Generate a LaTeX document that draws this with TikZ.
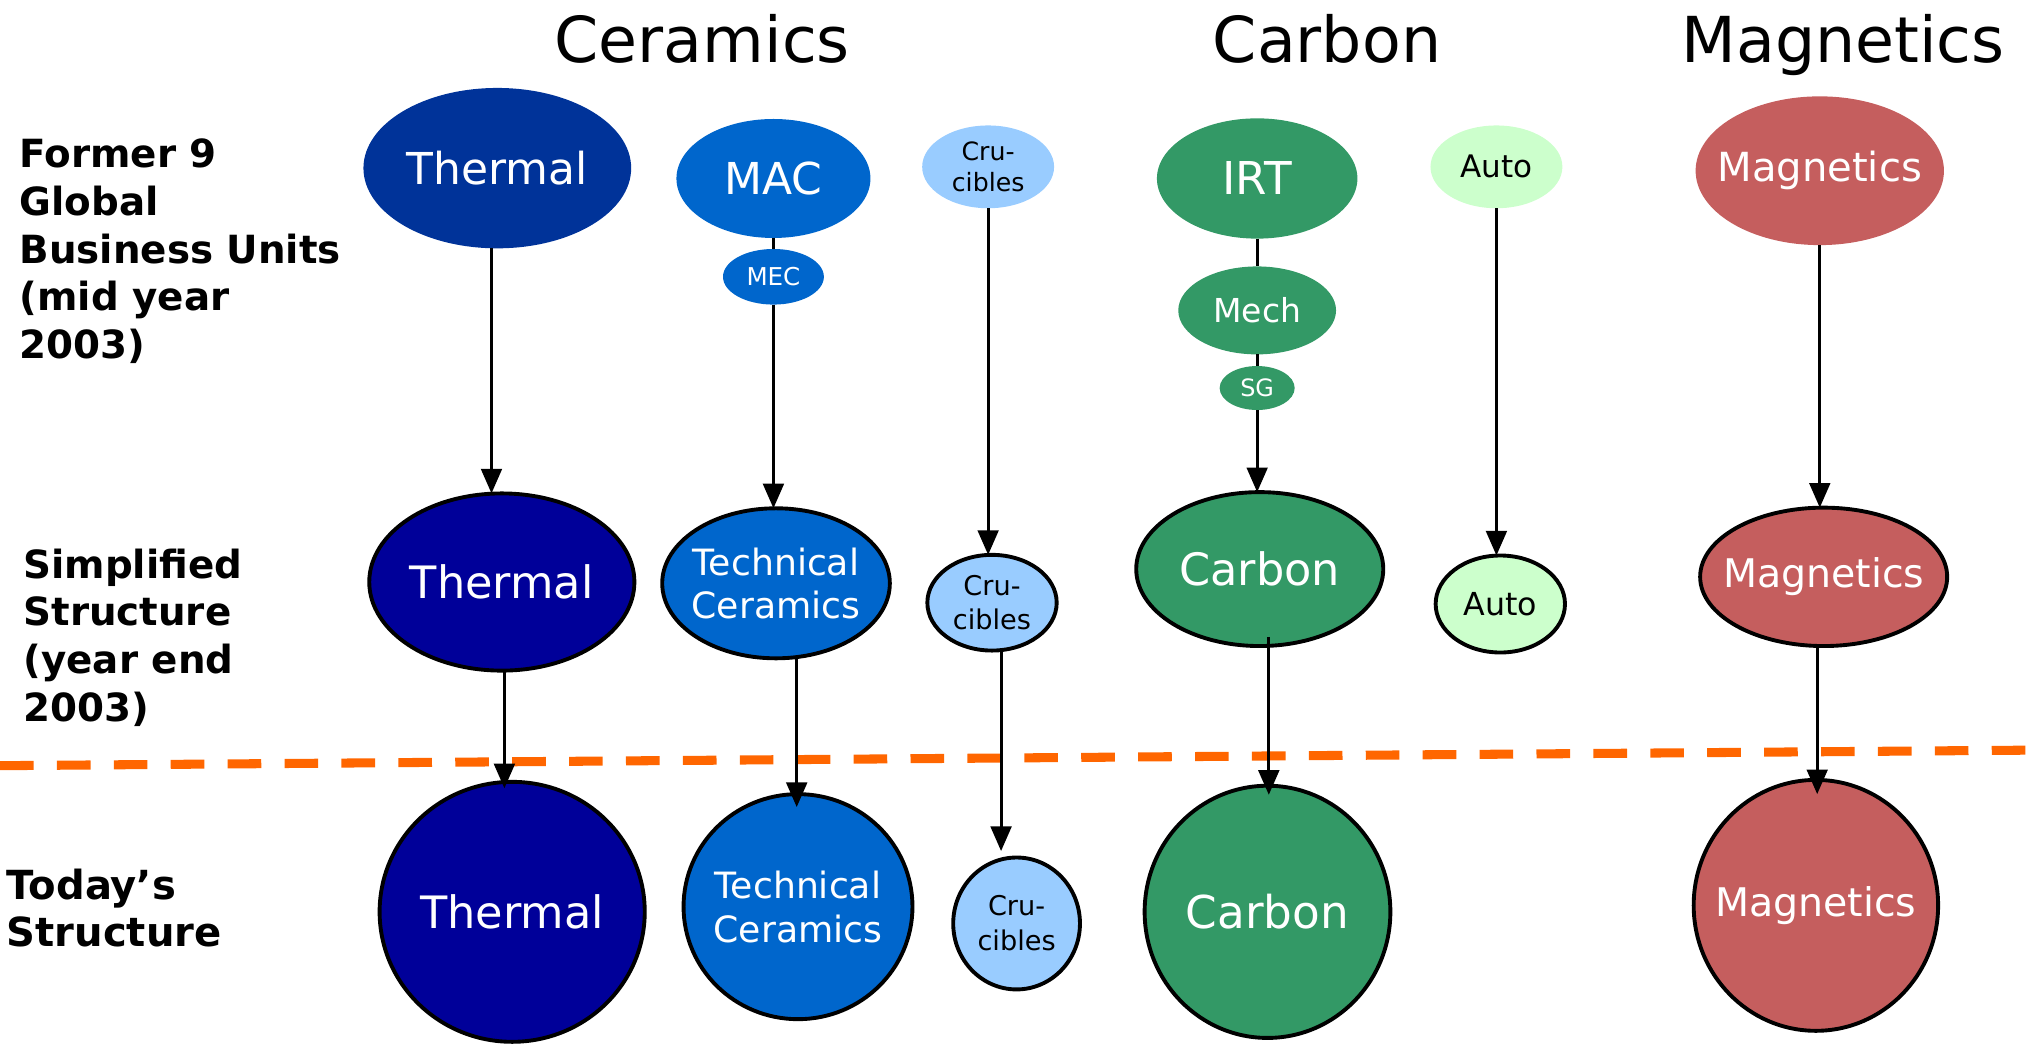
\documentclass[tikz,border=0pt]{standalone}
\usepackage{fontspec}
\setmainfont{DejaVu Sans}
\usetikzlibrary{shapes.geometric,arrows.meta}
\definecolor{thA}{HTML}{003399}
\definecolor{thB}{HTML}{000099}
\definecolor{tcC}{HTML}{0066CC}
\definecolor{cruC}{HTML}{99CCFF}
\definecolor{carbC}{HTML}{339966}
\definecolor{autoC}{HTML}{CCFFCC}
\definecolor{magC}{HTML}{C55E5E}
\definecolor{dashC}{HTML}{FF6600}
\newcommand\fz[2]{\fontsize{#1}{#2}\selectfont}
\tikzset{
  ell/.style 2 args={ellipse, inner sep=0pt, outer sep=0pt, minimum width=#1, minimum height=#2},
  bd/.style={draw=black, line width=3pt},
  wt/.style={text=white, align=center, inner sep=0pt},
  bt/.style={text=black, align=center, inner sep=0pt},
  ln/.style={line width=2.2pt, draw=black},
  arr/.style={ln, -{Triangle[length=19pt,width=16pt]}},
  dashln/.style={draw=dashC, line width=7pt, dash pattern=on 26pt off 18pt},
  hdr/.style={font=\fz{49}{59}, inner sep=0pt, anchor=base},
  side/.style={font=\bfseries\fz{30}{37}, align=left, inner sep=0pt, anchor=north west}
}
\begin{document}
\begin{tikzpicture}[x=1pt, y=-1pt]
\useasboundingbox (0,0) rectangle (1568,808);

% headers
\node[hdr] (hc) at (543,48) {Ceramics};
\node[hdr] (hb) at (1026,48) {Carbon};
\node[hdr] (hm) at (1425,48) {Magnetics};

% side labels
\node[side] (s1) at (15,107) {Former 9\\Global\\Business Units\\(mid year\\2003)};
\node[side] (s2) at (18,424) {Simplified\\Structure\\(year end\\2003)};
\node[side, font=\bfseries\fz{31}{36}] (s3) at (5,672) {Today’s\\Structure};

% dashed divider
\coordinate (dl) at (0,592);
\coordinate (dr) at (1568,580);
\draw[dashln] (dl) -- (dr);

% top row
\node[ell={207pt}{124pt}, fill=thA, label={[wt,font=\fz{34}{40}]center:Thermal}] (th1) at (384.5,130) {};
\node[ell={150pt}{92pt}, fill=tcC, label={[wt,font=\fz{34}{40}]center:MAC}] (mac) at (598,138) {};
\node[ell={78pt}{43pt}, fill=tcC, label={[wt,font=\fz{19}{23}]center:MEC}] (mec) at (598,214) {};
\node[ell={102pt}{64pt}, fill=cruC, label={[bt,font=\fz{19.5}{24}]center:Cru-\\cibles}] (cr1) at (764,129) {};
\node[ell={155pt}{93pt}, fill=carbC, label={[wt,font=\fz{35}{42}]center:IRT}] (irt) at (972,138) {};
\node[ell={122pt}{68pt}, fill=carbC, label={[wt,font=\fz{25.5}{30}]center:Mech}] (mech) at (972,240) {};
\node[ell={58pt}{34pt}, fill=carbC, label={[wt,font=\fz{18.5}{22}]center:SG}] (sg) at (972,300) {};
\node[ell={102pt}{64pt}, fill=autoC, label={[bt,font=\fz{24}{29}]center:Auto}] (au1) at (1157,129) {};
\node[ell={192pt}{115pt}, fill=magC, label={[wt,font=\fz{31}{37}]center:Magnetics}] (mg1) at (1407,132) {};

% middle row
\node[ell={205pt}{137pt}, bd, fill=thB, label={[wt,font=\fz{34.5}{41}]center:Thermal}] (th2) at (388,450) {};
\node[ell={176pt}{116pt}, bd, fill=tcC, label={[wt,font=\fz{28}{33}]center:Technical\\Ceramics}] (tc2) at (600,451) {};
\node[ell={100pt}{74pt}, bd, fill=cruC, label={[bt,font=\fz{21}{26}]center:Cru-\\cibles}] (cr2) at (767,466) {};
\node[ell={191pt}{119pt}, bd, fill=carbC, label={[wt,font=\fz{34.5}{41}]center:Carbon}] (cb2) at (974,440) {};
\node[ell={100pt}{75pt}, bd, fill=autoC, label={[bt,font=\fz{24.5}{29}]center:Auto}] (au2) at (1160,467) {};
\node[ell={191pt}{107pt}, bd, fill=magC, label={[wt,font=\fz{30.5}{37}]center:Magnetics}] (mg2) at (1410,446) {};

% bottom row
\node[ell={205pt}{201pt}, bd, fill=thB, label={[wt,font=\fz{34.5}{41}]center:Thermal}] (th3) at (396,705) {};
\node[ell={177pt}{174pt}, bd, fill=tcC, label={[wt,font=\fz{28}{34}]center:Technical\\Ceramics}] (tc3) at (617,701) {};
\node[ell={98pt}{102pt}, bd, fill=cruC, label={[bt,font=\fz{21}{27}]center:Cru-\\cibles}] (cr3) at (786,714) {};
\node[ell={190pt}{195pt}, bd, fill=carbC, label={[wt,font=\fz{35}{42}]center:Carbon}] (cb3) at (980,705) {};
\node[ell={189pt}{194pt}, bd, fill=magC, label={[wt,font=\fz{30.5}{37}]center:Magnetics}] (mg3) at (1404,700) {};

% connectors top -> middle
\coordinate (a1) at ([xshift=-4.5pt]th1.south);
\draw[arr] (a1) -- (a1 |- th2.north);
\draw[ln] (mac.south) -- (mec.north);
\draw[arr] (mec.south) -- (mec.south |- tc2.north);
\draw[arr] (cr1.south) -- (cr1.south |- cr2.north);
\draw[ln] (irt.south) -- (mech.north);
\draw[ln] (mech.south) -- (sg.north);
\draw[arr] (sg.south) -- (sg.south |- cb2.north);
\draw[arr] (au1.south) -- (au1.south |- au2.north);
\draw[arr] (mg1.south) -- (mg1.south |- mg2.north);

% connectors middle -> bottom
\coordinate (b1) at ([xshift=2pt]th2.south);
\draw[arr, shorten >=-5pt] (b1) -- (b1 |- th3.north);
\coordinate (b2) at ([xshift=-1pt]tc3.north);
\draw[arr, shorten >=-10pt] (b2 |- tc2.south) -- (b2);
\coordinate (b3) at ([xshift=7pt]cr2.south);
\draw[arr, shorten >=5pt] (b3) -- (b3 |- cr3.north);
\coordinate (b4) at ([xshift=7pt]cb2.south);
\draw[arr, shorten <=-7pt, shorten >=-7pt] (b4) -- (b4 |- cb3.north);
\coordinate (b5) at ([xshift=-5pt]mg2.south);
\draw[arr, shorten >=-11pt] (b5) -- (b5 |- mg3.north);
\end{tikzpicture}
\end{document}
